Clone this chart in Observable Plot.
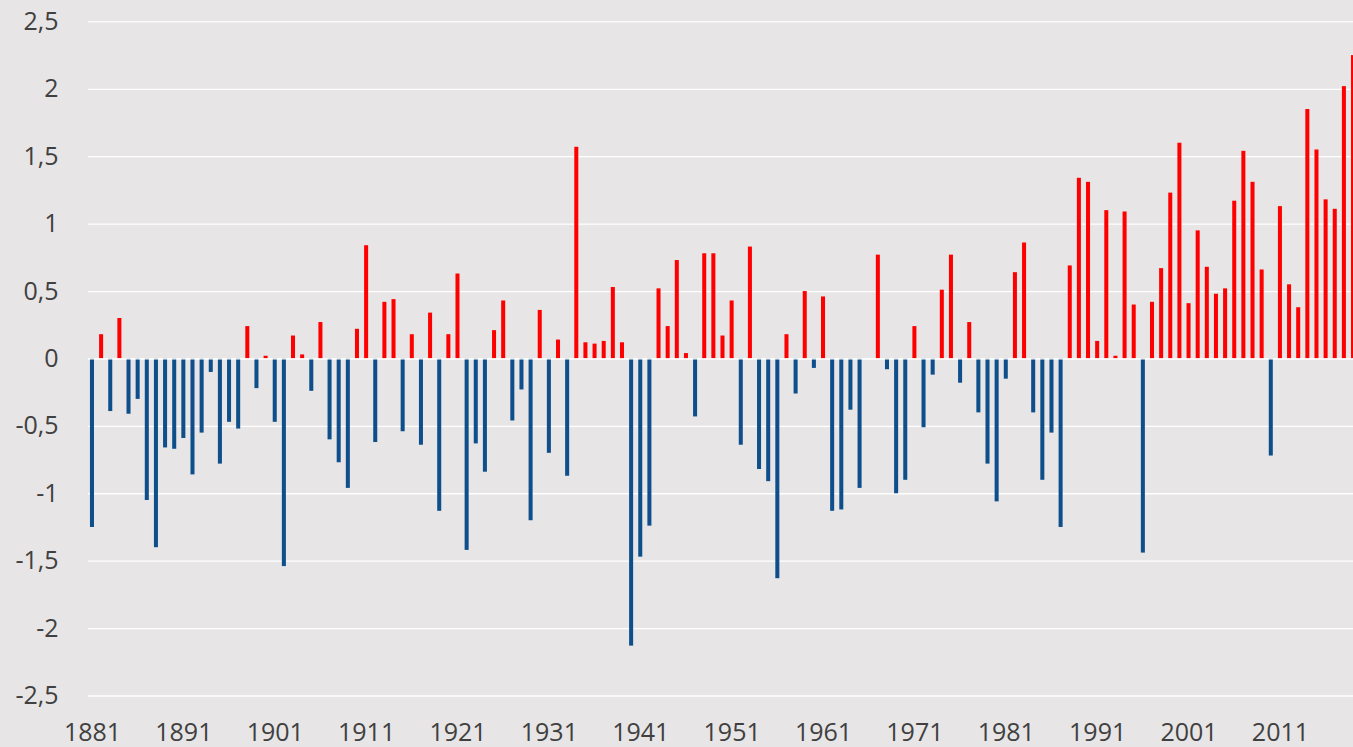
<!DOCTYPE html>
<html>
<head>
<meta charset="utf-8">
<script src="https://cdn.jsdelivr.net/npm/d3@7"></script>
<script src="https://cdn.jsdelivr.net/npm/@observablehq/plot@0.6"></script>
<style>
  html, body { margin: 0; padding: 0; background: #e7e5e6; overflow: hidden; }
  #chart { width: 1353px; height: 747px; }
</style>
</head>
<body>
<div id="chart"></div>
<script>
const firstYear = 1881;
const values = [
  -1.25, 0.18, -0.39, 0.30, -0.41, -0.30, -1.05, -1.40, -0.66, -0.67,
  -0.59, -0.86, -0.55, -0.10, -0.78, -0.47, -0.52, 0.24, -0.22, 0.02,
  -0.47, -1.54, 0.17, 0.03, -0.24, 0.27, -0.60, -0.77, -0.96, 0.22,
  0.84, -0.62, 0.42, 0.44, -0.54, 0.18, -0.64, 0.34, -1.13, 0.18,
  0.63, -1.42, -0.63, -0.84, 0.21, 0.43, -0.46, -0.23, -1.20, 0.36,
  -0.70, 0.14, -0.87, 1.57, 0.12, 0.11, 0.13, 0.53, 0.12, -2.13,
  -1.47, -1.24, 0.52, 0.24, 0.73, 0.04, -0.43, 0.78, 0.78, 0.17,
  0.43, -0.64, 0.83, -0.82, -0.91, -1.63, 0.18, -0.26, 0.50, -0.07,
  0.46, -1.13, -1.12, -0.38, -0.96, 0.00, 0.77, -0.08, -1.00, -0.90,
  0.24, -0.51, -0.12, 0.51, 0.77, -0.18, 0.27, -0.40, -0.78, -1.06,
  -0.15, 0.64, 0.86, -0.40, -0.90, -0.55, -1.25, 0.69, 1.34, 1.31,
  0.13, 1.10, 0.02, 1.09, 0.40, -1.44, 0.42, 0.67, 1.23, 1.60,
  0.41, 0.95, 0.68, 0.48, 0.52, 1.17, 1.54, 1.31, 0.66, -0.72,
  1.13, 0.55, 0.38, 1.85, 1.55, 1.18, 1.11, 2.02, 2.25
];
const years = values.map((_, i) => firstYear + i);
const xTickLabels = [1881, 1891, 1901, 1911, 1921, 1931, 1941, 1951, 1961, 1971, 1981, 1991, 2001, 2011];
const yTicks = [-2.5, -2, -1.5, -1, -0.5, 0, 0.5, 1, 1.5, 2, 2.5];

const data = years.map((year, i) => ({year, value: values[i]}));
const warm = data.filter(d => d.value >= 0);
const cold = data.filter(d => d.value < 0);

const fmt = d => String(d).replace(".", ",");
const half = 0.22; // half bar width in years

const chart = Plot.plot({
  width: 1353,
  height: 747,
  marginLeft: 88,
  marginRight: 0,
  marginTop: 21.4,
  marginBottom: 51.5,
  style: {
    background: "#e7e5e6",
    fontFamily: "'Open Sans', sans-serif",
    fontSize: "25px",
    color: "#404040",
    overflow: "hidden"
  },
  x: {
    type: "linear",
    domain: [1880.5, 2019.5],
    range: [87.4, 1357.6]
  },
  y: { domain: [-2.5, 2.5] },
  marks: [
    Plot.ruleY(yTicks, {stroke: "#ffffff", strokeWidth: 1.3}),
    Plot.rectY(warm, {x1: d => d.year - half, x2: d => d.year + half, y1: 0, y2: "value", fill: "#ff0000"}),
    Plot.rectY(cold, {x1: d => d.year - half, x2: d => d.year + half, y1: 0, y2: "value", fill: "#0d4e8b"}),
    Plot.ruleY([0], {stroke: "#ffffff", strokeWidth: 1.3}),
    Plot.axisY({ticks: yTicks, tickSize: 0, tickPadding: 30, tickFormat: fmt, label: null, fontSize: 25, fill: "#404040"}),
    Plot.axisX({ticks: xTickLabels, tickSize: 0, tickPadding: 27, tickFormat: d => String(d), label: null, fontSize: 25, fill: "#404040"})
  ]
});
document.getElementById("chart").appendChild(chart);
</script>
</body>
</html>
